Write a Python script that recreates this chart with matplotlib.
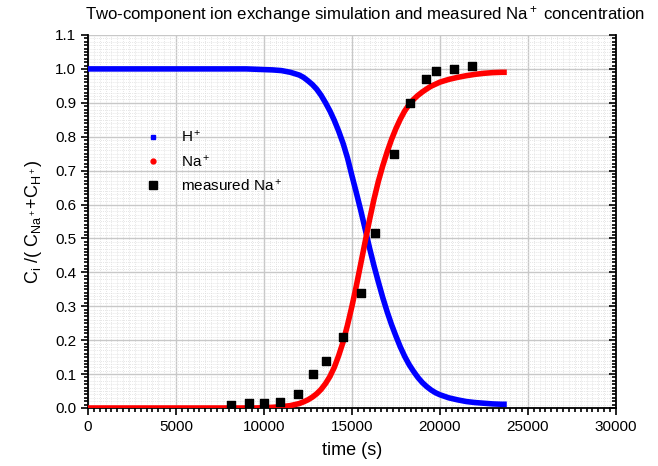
import matplotlib
matplotlib.use("Agg")
import matplotlib.pyplot as plt
from matplotlib.ticker import MultipleLocator

plt.rcParams['font.family'] = ['Liberation Sans', 'DejaVu Sans']
plt.rcParams['mathtext.fontset'] = 'custom'
plt.rcParams['mathtext.rm'] = 'Liberation Sans'
plt.rcParams['mathtext.it'] = 'Liberation Sans:italic'

# simulated breakthrough curves
t_sim = [0, 2000, 4000, 6000, 8000, 9000, 9500, 10000, 10500, 11000, 11500,
         11750, 12000, 12250, 12500, 12750, 13000, 13250, 13500, 13750, 14000,
         14250, 14500, 14750, 15000, 15250, 15500, 15750, 16000, 16250, 16500,
         16750, 17000, 17250, 17500, 17750, 18000, 18250, 18500, 18750, 19000,
         19250, 19500, 19750, 20000, 20500, 21000, 21500, 22000, 22500, 23000,
         23500, 23800]
h_sim = [1.0, 1.0, 1.0, 1.0, 1.0, 1.0, 0.999, 0.998, 0.997, 0.995, 0.99,
         0.986, 0.982, 0.975, 0.965, 0.954, 0.94, 0.922, 0.9, 0.876, 0.848,
         0.816, 0.78, 0.737, 0.685, 0.635, 0.583, 0.528, 0.472, 0.42, 0.372,
         0.326, 0.284, 0.246, 0.212, 0.18, 0.152, 0.128, 0.108, 0.09, 0.075,
         0.063, 0.053, 0.045, 0.039, 0.03, 0.024, 0.019, 0.016, 0.014, 0.012,
         0.011, 0.011]
na_sim = [0.0, 0.0, 0.0, 0.0, 0.0, 0.0, 0.0, 0.001, 0.002, 0.004, 0.007,
          0.01, 0.013, 0.018, 0.024, 0.032, 0.042, 0.055, 0.072, 0.093, 0.12,
          0.155, 0.195, 0.245, 0.30, 0.36, 0.425, 0.49, 0.555, 0.615, 0.668,
          0.714, 0.755, 0.792, 0.824, 0.852, 0.876, 0.895, 0.91, 0.922, 0.932,
          0.941, 0.949, 0.955, 0.961, 0.969, 0.975, 0.98, 0.984, 0.987, 0.989,
          0.99, 0.99]

# measured Na+ fraction
t_meas = [8100, 9150, 10000, 10900, 11950, 12800, 13500, 14500, 15500, 16300,
          17400, 18300, 19200, 19800, 20800, 21800]
na_meas = [0.01, 0.014, 0.016, 0.018, 0.04, 0.10, 0.14, 0.21, 0.34, 0.515,
           0.75, 0.90, 0.97, 0.995, 1.0, 1.01]

fig = plt.figure(figsize=(6.58, 4.66), dpi=100)
ax = fig.add_axes([0.1337, 0.1245, 0.8023, 0.8004])

ax.plot(t_sim, h_sim, color='#0000ff', lw=4, solid_capstyle='butt',
        solid_joinstyle='round', zorder=3)
ax.plot(t_sim, na_sim, color='#ff0000', lw=4, solid_capstyle='butt',
        solid_joinstyle='round', zorder=3)
ax.scatter(t_meas, na_meas, marker='s', s=36, color='black', zorder=4)

# legend shows markers only
h1, = ax.plot([], [], 's', color='#0000ff', ms=3.5, label='H$^+$')
h2, = ax.plot([], [], 'o', color='#ff0000', ms=3.5, label='Na$^+$')
h3, = ax.plot([], [], 's', color='black', ms=6, label='measured Na$^+$')
ax.legend(handles=[h1, h2, h3], loc='upper left', bbox_to_anchor=(0.08, 0.785),
          frameon=False, fontsize=11, handletextpad=1.2, labelspacing=0.55,
          handlelength=1.2)

ax.set_xlim(0, 30000)
ax.set_ylim(0, 1.1)
ax.xaxis.set_major_locator(MultipleLocator(5000))
ax.xaxis.set_minor_locator(MultipleLocator(5000 / 15))
ax.yaxis.set_major_locator(MultipleLocator(0.1))
ax.yaxis.set_minor_locator(MultipleLocator(0.01))
ax.set_yticks([i / 10 for i in range(12)])
ax.set_yticklabels(['%.1f' % (i / 10) for i in range(12)])

ax.grid(which='major', color='#c8c8c8', lw=1.0, zorder=0)
ax.grid(which='minor', color='#dddddd', lw=0.6, ls=(0, (1, 1.5)), zorder=0)
ax.set_axisbelow(True)

ax.spines['top'].set_visible(False)
for s in ['left', 'bottom', 'right']:
    ax.spines[s].set_linewidth(1.3)

ax.tick_params(which='both', direction='out', top=False, right=True,
               labelsize=11, width=1.2)
ax.tick_params(which='major', length=5)
ax.tick_params(which='minor', length=3)
# right side ticks point inward
for t in ax.yaxis.get_major_ticks() + ax.yaxis.get_minor_ticks():
    t.tick2line.set_marker(matplotlib.lines.TICKLEFT)

ax.set_xlabel('time (s)', fontsize=13, labelpad=6)
ax.set_ylabel('$\\mathrm{C_i}$ /( $\\mathrm{C_{Na^+}}$+$\\mathrm{C_{H^+}}$)',
              fontsize=13, labelpad=8)
fig.text(0.555, 0.968, 'Two-component ion exchange simulation and measured Na$^+$ concentration',
         ha='center', va='center', fontsize=12.1)

fig.savefig('out.png', dpi=100)
